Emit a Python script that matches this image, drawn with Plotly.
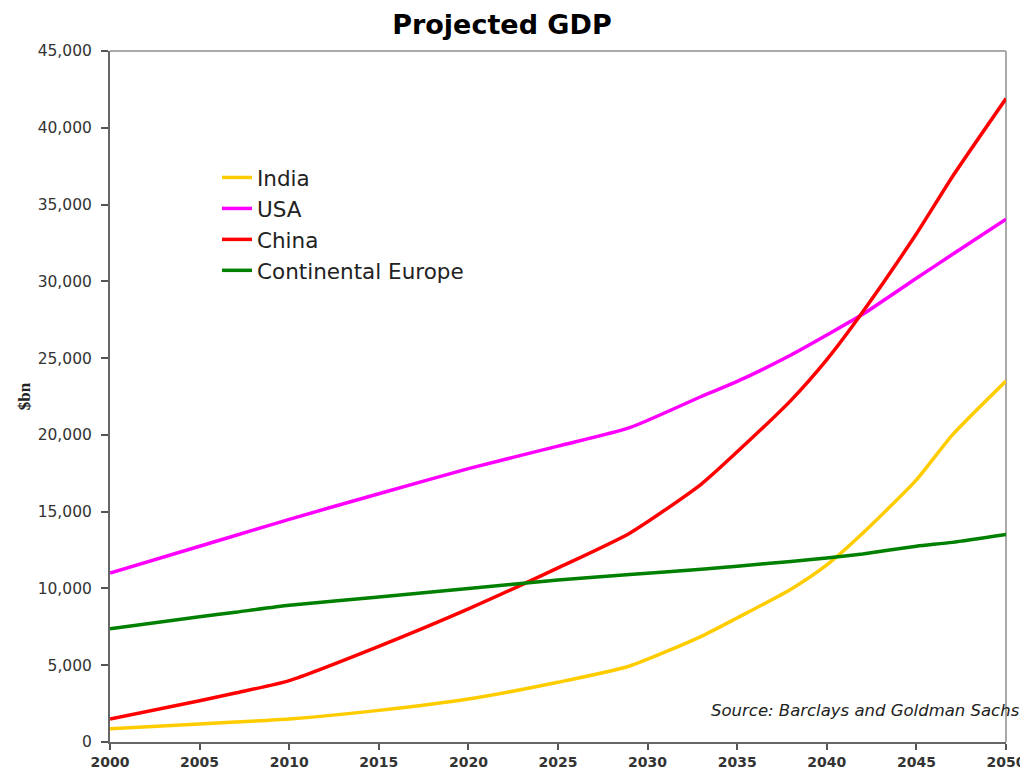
import plotly.graph_objects as go

years = [2000, 2005, 2007, 2010, 2015, 2020, 2025, 2029, 2033, 2035, 2038, 2040, 2042, 2045, 2047, 2050]
india = [870, 1170, 1300, 1500, 2060, 2800, 3890, 4950, 6880, 8080, 9950, 11530, 13590, 17070, 19990, 23510]
usa = [11000, 12750, 13450, 14500, 16170, 17800, 19270, 20470, 22500, 23480, 25200, 26500, 27850, 30200, 31750, 34050]
china = [1500, 2690, 3190, 4000, 6230, 8670, 11340, 13600, 16800, 18900, 22250, 24900, 28000, 33100, 36800, 41900]
europe = [7370, 8150, 8450, 8900, 9450, 9990, 10550, 10900, 11250, 11450, 11760, 11980, 12250, 12750, 13000, 13510]

series_names = ["India", "USA", "China", "Continental Europe"]
series_values = [india, usa, china, europe]
series_colors = ["#FFCC00", "#FF00FF", "#FF0000", "#008000"]

x_ticks = [2000, 2005, 2010, 2015, 2020, 2025, 2030, 2035, 2040, 2045, 2050]
y_ticks = [0, 5000, 10000, 15000, 20000, 25000, 30000, 35000, 40000, 45000]

fig = go.Figure()
for name, vals, col in zip(series_names, series_values, series_colors):
    fig.add_trace(go.Scatter(x=years, y=vals, name=name, mode="lines", legendgroup=name,
                             line=dict(color=col, width=3.5, shape="spline", smoothing=0.6)))

font_family = "DejaVu Sans, Verdana, sans-serif"

fig.update_layout(
    width=1020, height=765,
    paper_bgcolor="white", plot_bgcolor="white",
    margin=dict(l=102, r=22, t=43, b=31, autoexpand=False),
    title=dict(text="<b>Projected GDP</b>", x=0.4843, xanchor="center", y=0.979, yanchor="middle",
               font=dict(family=font_family, size=27, color="black")),
    showlegend=True,
    legend=dict(x=0.1194, y=0.8466, xanchor="left", yanchor="top",
                font=dict(family=font_family, size=21.5, color="#222"),
                bgcolor="rgba(0,0,0,0)", tracegroupgap=0),
    xaxis=dict(range=[2000, 2050], tickvals=x_ticks, ticktext=[f"<b>{t}</b>" for t in x_ticks],
               ticks="outside", ticklen=6, tickcolor="#555", tickwidth=2, showgrid=False, zeroline=False,
               showline=True, linecolor="#666", linewidth=2,
               tickfont=dict(family=font_family, size=14, color="#333")),
    yaxis=dict(range=[0, 45000], tickvals=y_ticks, tickformat=",",
               ticks="outside", ticklen=7, tickcolor="#555", tickwidth=2, showgrid=False, zeroline=False,
               showline=True, linecolor="#666", linewidth=2, ticklabelstandoff=6,
               tickfont=dict(family=font_family, size=15.5, color="#333"),
               title=dict(text="<b>$bn</b>", standoff=3,
                          font=dict(family="Liberation Serif, Times New Roman, serif", size=17, color="#222"))),
    shapes=[dict(type="line", xref="paper", yref="paper", x0=0, x1=1, y0=1, y1=1,
                 line=dict(color="#aaaaaa", width=2), layer="below"),
            dict(type="line", xref="paper", yref="paper", x0=1, x1=1, y0=0, y1=1,
                 line=dict(color="#aaaaaa", width=2), layer="below")],
    annotations=[dict(text="<i>Source: Barclays and Goldman Sachs</i>", xref="paper", yref="paper",
                      x=1.018, y=0.046, xanchor="right", yanchor="middle", showarrow=False,
                      font=dict(family=font_family, size=16.5, color="#222"))],
)

fig.write_html("out.html")
